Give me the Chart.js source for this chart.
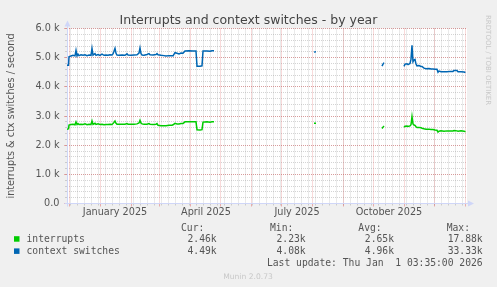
<!DOCTYPE html>
<html>
<head>
<meta charset="utf-8">
<script src="https://cdn.jsdelivr.net/npm/chart.js@4.4.1/dist/chart.umd.min.js"></script>
<style>
  html, body { margin: 0; padding: 0; background: #f0f0f0; }
  canvas { display: block; }
</style>
</head>
<body>
<canvas id="chart" width="497" height="287"></canvas>
<script>
// x values are days counted from 1 Dec 2024, null = no data
const days = [
  -2, -0.5, 0, 2, 4, 6, 7, 8, 9, 10, 12, 14, 16, 18, 20, 22, 23, 24,
  26, 27, 29, 31, 33, 35, 37, 39, 41, 43, 44, 45, 46, 47, 48, 50, 53, 56, 58, 59,
  62, 65, 68, 70, 71, 72, 73, 75, 78, 80, 81, 84, 87, 88, 89, 92, 95, 97, 100, 103, 104,
  106, 108, 110, 112, 114, 116, 120, 124, 127, 128, 131, 133, 134, 138, 141, 143, 145, 146,
  245, 247, 248, 313, 314, 315, 316,
  335, 336, 338, 339, 341, 342, 343, 344, 345, 346, 347, 348, 350, 352, 353, 355, 357, 360,
  362, 364, 366, 368, 369, 370, 372, 375, 378, 381, 384, 385, 388, 389, 392, 395, 396.5
];
const contextSwitches = [
  4740, 4740, 5030, 5060, 5080, 5060, 5250, 5060, 5120, 5070, 5100, 5080, 5100, 5070, 5090, 5080, 5320, 5090,
  5140, 5080, 5110, 5080, 5120, 5080, 5090, 5080, 5100, 5090, 5130, 5220, 5320, 5150, 5090, 5080, 5090, 5080, 5130, 5090,
  5080, 5090, 5100, 5160, 5330, 5140, 5090, 5080, 5110, 5140, 5100, 5090, 5110, 5140, 5100, 5080, 5070, 5060, 5070, 5070, 5060,
  5170, 5150, 5130, 5160, 5150, 5230, 5240, 5230, 5230, 4710, 4710, 4720, 5230, 5230, 5220, 5240, 5240, null,
  5190, 5200, null, 4710, 4780, 4830, null,
  4700, 4780, 4790, 4760, 4800, 4950, 5420, 4860, 4920, 4940, 4780, 4720, 4730, 4700, 4700, 4640, 4620, 4630,
  4610, 4610, 4600, 4600, 4500, 4540, 4520, 4520, 4520, 4530, 4530, 4560, 4560, 4520, 4520, 4510, 4490
];
const interrupts = [
  2540, 2560, 2690, 2710, 2720, 2700, 2800, 2710, 2740, 2710, 2720, 2710, 2730, 2700, 2720, 2710, 2830, 2710,
  2750, 2710, 2730, 2710, 2720, 2700, 2710, 2710, 2720, 2710, 2740, 2780, 2830, 2750, 2720, 2720, 2720, 2720, 2740, 2720,
  2720, 2720, 2730, 2760, 2850, 2760, 2730, 2720, 2720, 2740, 2720, 2710, 2720, 2740, 2680, 2670, 2670, 2670, 2680, 2680, 2700,
  2750, 2730, 2730, 2740, 2740, 2800, 2800, 2800, 2800, 2530, 2520, 2530, 2790, 2800, 2790, 2800, 2800, null,
  2750, 2750, null, 2570, 2620, 2660, null,
  2620, 2650, 2660, 2640, 2660, 2700, 2980, 2730, 2690, 2680, 2630, 2610, 2610, 2600, 2580, 2560, 2550, 2550,
  2540, 2540, 2520, 2510, 2450, 2480, 2490, 2480, 2490, 2490, 2490, 2500, 2490, 2480, 2490, 2480, 2460
];

const yTicks = [0, 1000, 2000, 3000, 4000, 5000, 6000];
const yTickLabels = ['0.0', '1.0 k', '2.0 k', '3.0 k', '4.0 k', '5.0 k', '6.0 k'];
const monthStarts = [0, 31, 62, 90, 121, 151, 182, 212, 243, 274, 304, 335, 365, 396];
const xLabelDays = [46, 137, 228, 320];
const xLabels = ['January 2025', 'April 2025', 'July 2025', 'October 2025'];

const seriesNames = ['interrupts', 'context switches'];
const seriesColors = ['#00cc00', '#0066b3'];
const curValues = ['2.46k', '4.49k'];
const minValues = ['2.23k', '4.08k'];
const avgValues = ['2.65k', '4.96k'];
const maxValues = ['17.88k', '33.33k'];

const minorGrid = 'rgba(143,143,143,0.38)';
const majorGrid = 'rgba(222,79,79,0.42)';
const axisColor = '#cfd6f8';
const textColor = '#555';

// weekly minor grid (Mondays)
const weekDays = [];
for (let d = 1; d < 398; d += 7) weekDays.push(d);
const minorY = [];
for (let v = 0; v <= 6000; v += 200) minorY.push(v);

const muninDecor = {
  id: 'muninDecor',
  beforeDraw(chart) {
    const { ctx, chartArea: a } = chart;
    ctx.save();
    ctx.fillStyle = '#f0f0f0';
    ctx.fillRect(0, 0, chart.width, chart.height);
    ctx.fillStyle = '#ffffff';
    ctx.fillRect(a.left, a.top, a.right - a.left, a.bottom - a.top);
    ctx.restore();
  },
  beforeDatasetsDraw(chart) {
    const { ctx, chartArea: a } = chart;
    const x0 = Math.round(a.left) + 0.5, y0 = Math.round(a.bottom) - 0.5;
    ctx.save();
    ctx.strokeStyle = axisColor;
    ctx.fillStyle = axisColor;
    ctx.lineWidth = 1;
    ctx.beginPath();
    ctx.moveTo(x0, y0 + 3); ctx.lineTo(x0, a.top - 4);
    ctx.moveTo(x0 - 3, y0); ctx.lineTo(a.right + 2, y0);
    ctx.stroke();
    // arrows
    ctx.beginPath();
    ctx.moveTo(x0 - 3, a.top - 2); ctx.lineTo(x0 + 3, a.top - 2); ctx.lineTo(x0, a.top - 8); ctx.closePath();
    ctx.fill();
    ctx.beginPath();
    ctx.moveTo(a.right + 1, y0 - 3); ctx.lineTo(a.right + 1, y0 + 3); ctx.lineTo(a.right + 7, y0); ctx.closePath();
    ctx.fill();
    ctx.restore();
  },
  afterDraw(chart) {
    const { ctx } = chart;
    ctx.save();
    // title
    ctx.fillStyle = '#444';
    ctx.font = '12.5px "DejaVu Sans"';
    ctx.textAlign = 'center';
    ctx.textBaseline = 'alphabetic';
    ctx.fillText('Interrupts and context switches - by year', 248.5, 23.5);
    // y title
    ctx.save();
    ctx.translate(13.5, 116);
    ctx.rotate(-Math.PI / 2);
    ctx.font = '9.7px "DejaVu Sans"';
    ctx.fillStyle = textColor;
    ctx.fillText('interrupts & ctx switches / second', 0, 0);
    ctx.restore();
    // watermark
    ctx.save();
    ctx.translate(486, 15);
    ctx.rotate(Math.PI / 2);
    ctx.font = '7px "DejaVu Sans"';
    ctx.fillStyle = '#c8c8c8';
    ctx.textAlign = 'left';
    ctx.fillText('RRDTOOL / TOBI OETIKER', 0, 0);
    ctx.restore();
    // legend table
    ctx.font = '9.7px "DejaVu Sans Mono"';
    ctx.fillStyle = textColor;
    ctx.textAlign = 'left';
    ['Cur:', 'Min:', 'Avg:', 'Max:'].forEach((h, i) => {
      ctx.fillText(h, [181, 270, 358.3, 446.7][i], 231);
    });
    const cols = [curValues, minValues, avgValues, maxValues];
    const colRight = [216.7, 305.7, 394, 482.7];
    seriesNames.forEach((name, r) => {
      const yb = 241.7 + r * 12.2;
      ctx.fillStyle = seriesColors[r];
      ctx.fillRect(14, yb - 5.5, 5.5, 5.5);
      ctx.fillStyle = textColor;
      ctx.textAlign = 'left';
      ctx.fillText(name, 26.5, yb);
      ctx.textAlign = 'right';
      cols.forEach((c, k) => ctx.fillText(c[r], colRight[k], yb));
    });
    ctx.textAlign = 'right';
    ctx.fillText('Last update: Thu Jan  1 03:35:00 2026', 482.7, 266.2);
    ctx.textAlign = 'center';
    ctx.font = '7.6px "DejaVu Sans"';
    ctx.fillStyle = '#c8c8c8';
    ctx.fillText('Munin 2.0.73', 248, 278.5);
    ctx.restore();
  }
};

const ctx = document.getElementById('chart').getContext('2d');
const toPoints = vals => days.map((d, i) => ({ x: d, y: vals[i] }));

new Chart(ctx, {
  type: 'line',
  data: {
    datasets: [
      { label: seriesNames[0], data: toPoints(interrupts), borderColor: seriesColors[0], borderWidth: 1.5,
        pointRadius: 0, tension: 0, spanGaps: false },
      { label: seriesNames[1], data: toPoints(contextSwitches), borderColor: seriesColors[1], borderWidth: 1.5,
        pointRadius: 0, tension: 0, spanGaps: false }
    ]
  },
  options: {
    responsive: false,
    animation: false,
    events: [],
    layout: { padding: { top: 28.5, right: 30, bottom: 63.5, left: 0 } },
    plugins: { legend: { display: false }, tooltip: { enabled: false } },
    scales: {
      xMinor: {
        type: 'linear', position: 'bottom', min: -2, max: 398, weight: 0,
        afterBuildTicks: s => { s.ticks = weekDays.map(v => ({ value: v })); },
        ticks: { display: false },
        grid: { color: minorGrid, tickColor: minorGrid, tickLength: 2 },
        border: { display: false, dash: [1, 1] },
        afterFit: s => { s.height = 0; }
      },
      yMinor: {
        type: 'linear', position: 'left', min: 0, max: 6000, weight: 0,
        afterBuildTicks: s => { s.ticks = minorY.map(v => ({ value: v })); },
        ticks: { display: false },
        grid: { color: minorGrid, tickColor: minorGrid, tickLength: 2 },
        border: { display: false, dash: [1, 1] },
        afterFit: s => { s.width = 0; }
      },
      x: {
        type: 'linear', position: 'bottom', min: -2, max: 398, weight: 1,
        afterBuildTicks: s => { s.ticks = monthStarts.map(v => ({ value: v })); },
        ticks: { display: false },
        grid: { color: majorGrid, tickColor: majorGrid, tickLength: 3 },
        border: { display: false, dash: [1, 1] },
        afterFit: s => { s.height = 0; }
      },
      y: {
        type: 'linear', position: 'left', min: 0, max: 6000, weight: 1,
        afterBuildTicks: s => { s.ticks = yTicks.map(v => ({ value: v })); },
        ticks: {
          callback: v => yTickLabels[yTicks.indexOf(v)],
          color: textColor, font: { family: 'DejaVu Sans', size: 9.7 }, padding: 4.5
        },
        grid: { color: majorGrid, tickColor: majorGrid, tickLength: 3 },
        border: { display: false, dash: [1, 1] },
        afterFit: s => { s.width = 67; }
      },
      xLabel: {
        type: 'linear', position: 'bottom', min: -2, max: 398, weight: 2,
        afterBuildTicks: s => { s.ticks = xLabelDays.map(v => ({ value: v })); },
        ticks: {
          callback: (v, i) => xLabels[i], autoSkip: false, maxRotation: 0,
          color: textColor, font: { family: 'DejaVu Sans', size: 9.7 }, padding: 3
        },
        grid: { display: false, drawTicks: false },
        border: { display: false },
        afterFit: s => { s.height = 20; }
      }
    }
  },
  plugins: [muninDecor]
});
</script>
</body>
</html>
